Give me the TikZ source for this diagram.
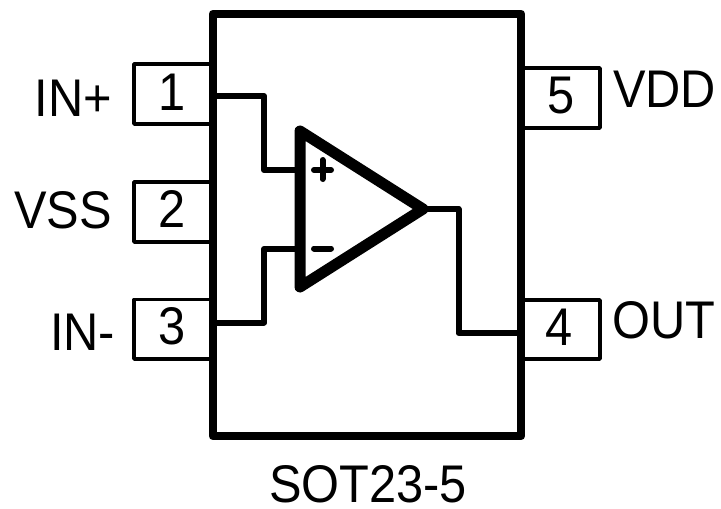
\documentclass[tikz,border=0pt]{standalone}
\usepackage{fontspec}
\setmainfont[FakeStretch=0.92]{Liberation Sans}
\begin{document}
\begin{tikzpicture}[x=1pt,y=-1pt,line join=round,
  pinbox/.style={draw=black,line width=3.8pt,fill=white,inner sep=0pt,outer sep=0pt,minimum width=79pt,line join=round},
  pintext/.style={font=\fontsize{53}{53}\selectfont,inner sep=0pt,outer sep=0pt,anchor=base},
  labeltext/.style={font=\fontsize{53}{53}\selectfont,inner sep=0pt,outer sep=0pt},
  wire/.style={line width=6pt,line join=round},
  sign/.style={line width=6pt,line cap=round}]
\useasboundingbox (0,0) rectangle (721,509);
\fill[white] (0,0) rectangle (721,509);
% pins
\node[pinbox,minimum height=60pt] (p1) at (173.5,94) {};
\node[pinbox,minimum height=60pt] (p2) at (173.5,212) {};
\node[pinbox,minimum height=59.5pt] (p3) at (173.5,329.25) {};
\node[pinbox,minimum height=60pt] (p5) at (560.5,98) {};
\node[pinbox,minimum height=59pt] (p4) at (560.5,329.5) {};
\node[pintext] (n1) at (172.5,110) {1};
\node[pintext] (n2) at (172,227) {2};
\node[pintext] (n3) at (172.5,344.5) {3};
\node[pintext] (n5) at (561,113.5) {5};
\node[pintext] (n4) at (559.5,345) {4};
% body
\node[draw=black,line width=8.8pt,fill=white,line join=round,minimum width=308pt,minimum height=422pt,inner sep=0pt,outer sep=0pt] (ic) at (367,225) {};
% wires (under the amplifier outline)
\coordinate (w1s) at (ic.west |- 0,96);
\coordinate (w1t) at (300,170);
\coordinate (w3s) at (ic.west |- 0,322.5);
\coordinate (w3t) at (300,249);
\coordinate (w4s) at (423,209);
\coordinate (w4t) at (ic.east |- 0,333);
\draw[wire] (w1s) -- (264,96) -- (264,170) -- (w1t);
\draw[wire] (w3s) -- (264,322.5) -- (264,249) -- (w3t);
\draw[wire] (w4s) -- (458.5,209) -- (458.5,333) -- (w4t);
% amplifier
\coordinate (a1) at (300,131);
\coordinate (a2) at (300,287);
\coordinate (a3) at (423,209);
\draw[line width=11pt,fill=white,line join=round] (a1) -- (a3) -- (a2) -- cycle;
% plus minus
\draw[sign] (314,170) -- (331,170) (322.5,160) -- (322.5,179);
\draw[sign] (314,248.5) -- (331,248.5);
% labels
\node[labeltext,anchor=base east] (l1) at (112,116) {IN+};
\node[labeltext,anchor=base east] (l2) at (112,228) {VSS};
\node[labeltext,anchor=base east] (l3) at (115,350) {IN-};
\node[labeltext,anchor=base west] (l5) at (613,107) {VDD};
\node[labeltext,anchor=base west] (l4) at (612.5,338) {OUT};
\node[labeltext,anchor=base] (t) at (368,502) {SOT23-5};
\end{tikzpicture}
\end{document}
